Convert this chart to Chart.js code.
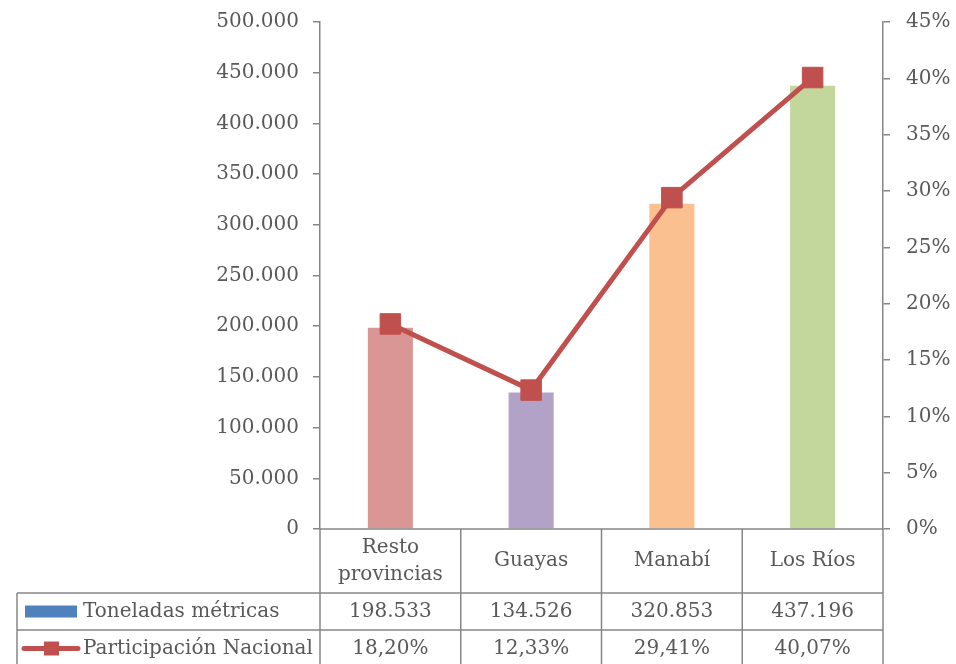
<!DOCTYPE html>
<html>
<head>
<meta charset="utf-8">
<script src="https://cdn.jsdelivr.net/npm/chart.js@4/dist/chart.umd.min.js"></script>
<style>
  html, body { margin: 0; padding: 0; background: #fff; }
  #wrap { width: 956px; height: 664px; }
</style>
</head>
<body>
<div id="wrap"><canvas id="c" width="956" height="664"></canvas></div>
<script>
const categories = [['Resto', 'provincias'], ['Guayas'], ['Manabí'], ['Los Ríos']];
const toneladas = [198533, 134526, 320853, 437196];
const participacion = [18.20, 12.33, 29.41, 40.07];
const barColors = ['#D99694', '#B3A2C7', '#FAC090', '#C3D69B'];
const seriesNames = ['Toneladas métricas', 'Participación Nacional'];
const leftTicks = { min: 0, max: 500000, step: 50000 };
const rightTicks = { min: 0, max: 45, step: 5 };

const FONT = '"DejaVu Serif", serif';
const TXT = '#595959';
const LINE = '#868686';

function fmtThousands(v) {
  return String(Math.round(v)).replace(/\B(?=(\d{3})+(?!\d))/g, '.');
}
function fmtPct(v) {
  return v.toFixed(2).replace('.', ',') + '%';
}

const tablePlugin = {
  id: 'dataTable',
  afterDraw(chart) {
    const ctx = chart.ctx;
    const ca = chart.chartArea;
    const n = categories.length;
    const colW = (ca.right - ca.left) / n;
    const top = ca.bottom;
    const r1 = top + 64, r2 = r1 + 37, r3 = r2 + 37;
    const tableLeft = 17;
    ctx.save();
    ctx.strokeStyle = LINE;
    ctx.lineWidth = 1.5;
    ctx.beginPath();
    ctx.moveTo(ca.left, top); ctx.lineTo(ca.right, top);
    ctx.moveTo(tableLeft, r1); ctx.lineTo(ca.right, r1);
    ctx.moveTo(tableLeft, r2); ctx.lineTo(ca.right, r2);
    ctx.moveTo(tableLeft, r3); ctx.lineTo(ca.right, r3);
    for (let k = 0; k <= n; k++) {
      const x = ca.left + k * colW;
      ctx.moveTo(x, top); ctx.lineTo(x, r3);
    }
    ctx.moveTo(tableLeft, r1); ctx.lineTo(tableLeft, r3);
    ctx.stroke();

    ctx.fillStyle = TXT;
    ctx.font = '20px ' + FONT;
    ctx.textBaseline = 'middle';
    ctx.textAlign = 'center';
    const xs = chart.scales.x;
    categories.forEach((lab, i) => {
      const cx = xs.getPixelForValue(i);
      const lh = 27;
      const cy = (top + r1) / 2;
      lab.forEach((t, j) => {
        ctx.fillText(t, cx, cy - (lab.length - 1) * lh / 2 + j * lh);
      });
      ctx.fillText(fmtThousands(toneladas[i]), cx, (r1 + r2) / 2);
      ctx.fillText(fmtPct(participacion[i]), cx, (r2 + r3) / 2);
    });

    ctx.textAlign = 'left';
    ctx.fillStyle = '#4F81BD';
    ctx.fillRect(25, (r1 + r2) / 2 - 6, 52, 12);
    ctx.fillStyle = TXT;
    ctx.fillText(seriesNames[0], 83, (r1 + r2) / 2);
    const ly = (r2 + r3) / 2;
    ctx.strokeStyle = '#C0504D';
    ctx.lineWidth = 5;
    ctx.lineCap = 'round';
    ctx.beginPath(); ctx.moveTo(24, ly); ctx.lineTo(78, ly); ctx.stroke();
    ctx.fillStyle = '#C0504D';
    ctx.fillRect(44, ly - 7, 15, 14);
    ctx.fillStyle = TXT;
    ctx.fillText(seriesNames[1], 83, ly);
    ctx.restore();
  }
};

new Chart(document.getElementById('c'), {
  type: 'bar',
  data: {
    labels: categories,
    datasets: [
      {
        type: 'line',
        label: seriesNames[1],
        data: participacion,
        yAxisID: 'y1',
        borderColor: '#C0504D',
        backgroundColor: '#C0504D',
        borderWidth: 5,
        pointStyle: 'rect',
        pointRadius: 14.5,
        pointHoverRadius: 14.5,
        pointBorderWidth: 1,
        pointBorderColor: '#C0504D',
        pointBackgroundColor: '#C0504D',
        tension: 0,
        order: 0,
        clip: false
      },
      {
        type: 'bar',
        label: seriesNames[0],
        data: toneladas,
        yAxisID: 'y',
        backgroundColor: barColors,
        borderWidth: 0,
        barPercentage: 0.32,
        categoryPercentage: 1,
        order: 1
      }
    ]
  },
  options: {
    responsive: false,
    devicePixelRatio: 1,
    animation: false,
    layout: { padding: { top: 22, bottom: 135, left: 0, right: 0 } },
    plugins: { legend: { display: false }, tooltip: { enabled: false } },
    scales: {
      x: { display: false, offset: true },
      y: {
        position: 'left',
        min: leftTicks.min, max: leftTicks.max,
        afterFit(s) { s.width = 320; s.paddingTop = 0; s.paddingBottom = 0; },
        ticks: {
          stepSize: leftTicks.step,
          padding: 14,
          color: TXT,
          font: { family: FONT, size: 20 },
          callback: v => v === 0 ? '0' : fmtThousands(v)
        },
        grid: { drawOnChartArea: false, drawTicks: true, tickLength: 7, color: LINE, lineWidth: 1.5 },
        border: { display: true, color: LINE, width: 1.5 }
      },
      y1: {
        position: 'right',
        min: rightTicks.min, max: rightTicks.max,
        afterFit(s) { s.width = 73; s.paddingTop = 0; s.paddingBottom = 0; },
        ticks: {
          stepSize: rightTicks.step,
          padding: 16,
          color: TXT,
          font: { family: FONT, size: 20 },
          callback: v => Math.round(v) + '%'
        },
        grid: { drawOnChartArea: false, drawTicks: true, tickLength: 7, color: LINE, lineWidth: 1.5 },
        border: { display: true, color: LINE, width: 1.5 }
      }
    }
  },
  plugins: [tablePlugin]
});
</script>
</body>
</html>
